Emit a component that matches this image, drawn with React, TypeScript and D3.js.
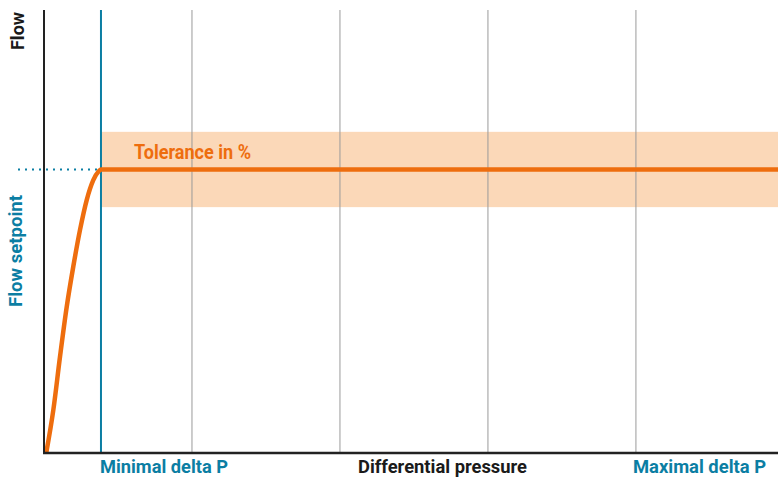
import React from "react";
import * as d3 from "d3";

// Data (x: differential pressure units, y: flow %)
const curveX = [0.03, 0.126, 0.216, 0.307, 0.396, 0.486, 0.577, 0.666, 0.74, 0.77, 9.92];
const curveY = [0, 9.7, 21.7, 33.0, 42.1, 50.3, 57.1, 61.6, 63.6, 64, 64];
const setpoint = 64;
const toleranceBand = [55.5, 72.5];
const gridX = [2, 4, 6, 8];
const minDeltaP = 0.77;
const xLabels = ["Minimal delta P", "Differential pressure", "Maximal delta P"];
const yLabels = ["Flow", "Flow setpoint"];
const bandLabel = "Tolerance in %";

const W = 778;
const H = 479;
const BLUE = "#0b7ea3";
const ORANGE = "#ee6d0e";
const BAND = "#fbd8b8";
const FONT = "Roboto, 'Liberation Sans', sans-serif";

export default function App() {
  const x = d3.scaleLinear().domain([0, 9.92]).range([44, 778]);
  const y = d3.scaleLinear().domain([0, 100]).range([453, 10]);
  const pts: [number, number][] = curveX.map((v, i) => [v, curveY[i]]);
  const line = d3
    .line<[number, number]>()
    .x((d) => x(d[0]))
    .y((d) => y(d[1]))
    .curve(d3.curveMonotoneX);

  return (
    <svg
      width={W}
      height={H}
      style={{ position: "absolute", left: 0, top: 0, background: "#fff" }}
      fontFamily={FONT}
      fontWeight="bold"
    >
      {/* tolerance band */}
      <rect
        x={x(minDeltaP)}
        y={y(toleranceBand[1])}
        width={x(9.92) - x(minDeltaP)}
        height={y(toleranceBand[0]) - y(toleranceBand[1])}
        fill={BAND}
      />
      {/* grid lines */}
      {gridX.map((g) => (
        <line key={g} x1={x(g)} x2={x(g)} y1={y(100)} y2={y(0)} stroke="#9a9a9a" strokeWidth={1} />
      ))}
      {/* min delta P line */}
      <line x1={x(minDeltaP)} x2={x(minDeltaP)} y1={y(100)} y2={y(0)} stroke={BLUE} strokeWidth={2} />
      {/* dotted setpoint */}
      <line
        x1={18}
        x2={x(minDeltaP)}
        y1={y(setpoint)}
        y2={y(setpoint)}
        stroke={BLUE}
        strokeWidth={2}
        strokeDasharray="2 5"
      />
      {/* curve */}
      <path d={line(pts) || ""} fill="none" stroke={ORANGE} strokeWidth={4.5} strokeLinejoin="round" />
      {/* axes */}
      <line x1={x(0)} x2={x(0)} y1={y(100)} y2={y(0) + 1} stroke="#222" strokeWidth={2} />
      <line x1={x(0) - 1} x2={W} y1={y(0)} y2={y(0)} stroke="#222" strokeWidth={2.5} />
      {/* band label */}
      <text x={134} y={159} fill={ORANGE} fontSize={20} textLength={117} lengthAdjust="spacingAndGlyphs">
        {bandLabel}
      </text>
      {/* x labels */}
      <text x={100} y={473} fill={BLUE} fontSize={19} textLength={128} lengthAdjust="spacingAndGlyphs">
        {xLabels[0]}
      </text>
      <text x={358} y={473} fill="#1a1a1a" fontSize={19} textLength={169} lengthAdjust="spacingAndGlyphs">
        {xLabels[1]}
      </text>
      <text x={633} y={473} fill={BLUE} fontSize={19} textLength={133} lengthAdjust="spacingAndGlyphs">
        {xLabels[2]}
      </text>
      {/* y labels */}
      <text
        transform="translate(24,50) rotate(-90)"
        fill="#1a1a1a"
        fontSize={19}
        textLength={38}
        lengthAdjust="spacingAndGlyphs"
      >
        {yLabels[0]}
      </text>
      <text
        transform="translate(22,307) rotate(-90)"
        fill={BLUE}
        fontSize={18}
        textLength={112}
        lengthAdjust="spacingAndGlyphs"
      >
        {yLabels[1]}
      </text>
    </svg>
  );
}
